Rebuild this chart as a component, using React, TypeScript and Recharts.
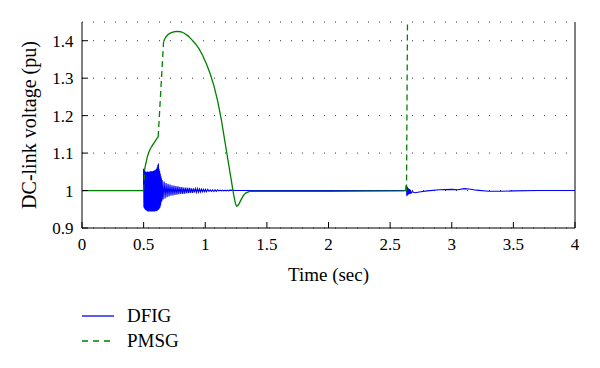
import React from 'react';
import { LineChart, Line, XAxis, YAxis, CartesianGrid, Legend, Text } from 'recharts';

// Time (sec) / DC-link voltage (pu) pairs
const dfigPoints: [number, number][] = [
  [0, 1.0], [0.499, 1.0],
  [0.5, 1.058], [0.5025, 0.955], [0.505, 1.055], [0.5075, 0.952], [0.51, 1.052], [0.5125, 0.95],
  [0.515, 1.05], [0.5175, 0.948], [0.52, 1.048], [0.5225, 0.947], [0.525, 1.05], [0.5275, 0.946],
  [0.53, 1.051], [0.5325, 0.945], [0.535, 1.05], [0.5375, 0.944], [0.54, 1.049], [0.5425, 0.944],
  [0.545, 1.05], [0.5475, 0.945], [0.55, 1.051], [0.5525, 0.944], [0.555, 1.05], [0.5575, 0.945],
  [0.56, 1.052], [0.5625, 0.944], [0.565, 1.051], [0.5675, 0.944], [0.57, 1.05], [0.5725, 0.945],
  [0.575, 1.052], [0.5775, 0.944], [0.58, 1.053], [0.5825, 0.945], [0.585, 1.052], [0.5875, 0.944],
  [0.59, 1.054], [0.5925, 0.945], [0.595, 1.055], [0.5975, 0.946], [0.6, 1.056], [0.6025, 0.945],
  [0.605, 1.058], [0.6075, 0.946], [0.61, 1.062], [0.6125, 0.947], [0.615, 1.068], [0.6175, 0.948],
  [0.62, 1.072], [0.6225, 0.95], [0.625, 1.058], [0.6275, 0.952], [0.63, 1.052], [0.6325, 0.955],
  [0.635, 1.045], [0.6375, 0.96], [0.64, 1.038], [0.6425, 0.968], [0.645, 1.032], [0.6475, 0.972],
  [0.65, 1.028], [0.658, 0.976], [0.666, 1.024], [0.674, 0.979], [0.682, 1.02], [0.69, 0.982],
  [0.698, 1.018], [0.706, 0.984], [0.714, 1.016], [0.722, 0.986], [0.73, 1.014], [0.738, 0.987],
  [0.746, 1.013], [0.754, 0.988], [0.762, 1.012], [0.77, 0.989], [0.778, 1.011], [0.786, 0.99],
  [0.794, 1.01], [0.802, 0.991], [0.81, 1.009], [0.818, 0.991], [0.826, 1.008], [0.834, 0.992],
  [0.842, 1.008], [0.85, 0.993], [0.858, 1.007], [0.866, 0.993], [0.874, 1.007], [0.882, 0.994],
  [0.89, 1.006], [0.898, 0.994], [0.906, 1.006], [0.914, 0.995], [0.922, 1.005], [0.93, 0.995],
  [0.938, 1.005], [0.946, 0.996], [0.954, 1.004], [0.962, 0.996], [0.97, 1.004], [0.978, 0.997],
  [0.986, 1.003], [0.994, 0.997], [1.002, 1.003], [1.01, 0.997], [1.02, 1.003], [1.03, 0.998],
  [1.04, 1.002], [1.05, 0.998], [1.06, 1.002], [1.07, 0.998], [1.08, 1.002], [1.09, 0.998],
  [1.1, 1.002], [1.11, 0.999], [1.12, 1.001], [1.13, 0.999], [1.14, 1.001], [1.15, 0.999],
  [1.16, 1.001], [1.17, 0.999], [1.18, 1.001], [1.19, 0.999], [1.2, 1.001], [1.25, 1.0],
  [2.0, 1.0], [2.628, 1.0], [2.632, 1.012], [2.636, 0.985], [2.64, 1.01], [2.644, 0.988],
  [2.648, 1.006], [2.652, 0.99], [2.656, 1.004], [2.66, 0.992], [2.665, 1.002], [2.67, 0.993],
  [2.68, 0.997], [2.7, 0.994], [2.75, 0.997], [2.8, 0.999], [2.9, 1.002], [3.0, 1.003],
  [3.05, 1.002], [3.1, 1.005], [3.14, 1.004], [3.2, 1.001], [3.3, 0.998], [3.4, 0.998],
  [3.5, 0.999], [3.7, 1.0], [4.0, 1.0],
];

// PMSG: densely sampled parts (drawn solid-looking) separated by null gaps
const pmsgSolidPoints: [number, number | null][] = [
  [0, 1.0], [0.499, 1.0], [0.5, null],
  [0.51, 1.06], [0.52, 1.075], [0.53, 1.09], [0.54, 1.1],
  [0.55, 1.108], [0.56, 1.115], [0.57, 1.12], [0.58, 1.125], [0.59, 1.13], [0.6, 1.135],
  [0.61, 1.14], [0.618, 1.143], [0.64, null],
  [0.662, 1.398], [0.68, 1.41], [0.7, 1.417], [0.72, 1.421],
  [0.75, 1.424], [0.77, 1.425], [0.8, 1.424], [0.83, 1.42], [0.86, 1.413], [0.89, 1.403],
  [0.92, 1.392], [0.95, 1.378], [0.98, 1.36], [1.01, 1.338], [1.04, 1.312], [1.07, 1.28],
  [1.1, 1.24], [1.13, 1.19], [1.16, 1.13], [1.19, 1.07], [1.21, 1.03], [1.23, 0.99],
  [1.245, 0.965], [1.255, 0.958], [1.27, 0.962], [1.29, 0.975], [1.31, 0.987], [1.33, 0.994],
  [1.36, 0.998], [1.4, 0.998], [2.0, 0.998], [2.6, 0.999], [2.628, 1.0], [2.63, 1.014],
  [2.633, 1.0],
];

// PMSG: sparsely sampled steep jumps (dashed)
const pmsgDashPoints: [number, number | null][] = [
  [0.499, 1.0], [0.51, 1.06], [0.56, null],
  [0.618, 1.143], [0.662, 1.398], [2.0, null],
  [2.633, 1.0], [2.645, 1.7],
];

const xTicks = [0, 0.5, 1, 1.5, 2, 2.5, 3, 3.5, 4];
const yTicks = [0.9, 1, 1.1, 1.2, 1.3, 1.4];
const seriesNames = ['DFIG', 'PMSG'];
const seriesColors = ['#0000ff', '#008000'];

const dfigData = dfigPoints.map(([t, v]) => ({ t, v }));
const pmsgSolidData = pmsgSolidPoints.map(([t, v]) => ({ t, v }));
const pmsgDashData = pmsgDashPoints.map(([t, v]) => ({ t, v }));

const FONT = '"Liberation Serif", "Times New Roman", serif';

const SerifTick = (props: any) => {
  const { x, y, textAnchor, verticalAnchor, payload } = props;
  return (
    <Text x={x} y={y} textAnchor={textAnchor} verticalAnchor={verticalAnchor}
      fontSize={17} fill="#000" fontFamily={FONT} style={{ fontFamily: FONT }}>
      {String(payload.value)}
    </Text>
  );
};

const LegendContent = () => (
  <div style={{ fontFamily: FONT, fontSize: 19, color: '#000' }}>
    {seriesNames.map((name, i) => (
      <div key={name} style={{ display: 'flex', alignItems: 'center', height: 25.5 }}>
        <svg width={32} height={4} style={{ display: 'block' }}>
          <line x1={0} y1={2} x2={32} y2={2} stroke={seriesColors[i]} strokeWidth={1.3}
            strokeDasharray={i === 1 ? '6 5' : undefined} />
        </svg>
        <span style={{ marginLeft: 13 }}>{name}</span>
      </div>
    ))}
  </div>
);

export default function App() {
  return (
    <div style={{ position: 'absolute', left: 0, top: 0, width: 600, height: 368, background: '#fff', fontFamily: FONT }}>
      <LineChart width={600} height={368} margin={{ top: 22, right: 24, bottom: 100, left: 0 }}
        style={{ fontFamily: FONT }}>
        <CartesianGrid vertical={false} strokeDasharray="1 10" stroke="#333" />
        <XAxis dataKey="t" type="number" domain={[0, 4]} ticks={xTicks} height={40}
          allowDataOverflow tickSize={-6} tickMargin={15.5}
          stroke="#000" tick={<SerifTick />}
          label={{ value: 'Time (sec)', position: 'bottom', offset: 0, fontSize: 19, fill: '#000', fontFamily: FONT }} />
        <XAxis xAxisId="top" orientation="top" dataKey="t" type="number" domain={[0, 4]} ticks={xTicks}
          height={0} tickSize={-6} tick={false} stroke="#000" />
        <YAxis type="number" domain={[0.9, 1.45]} ticks={yTicks} width={82} allowDataOverflow
          tickSize={-6} tickMargin={14.5} stroke="#000"
          tick={<SerifTick />}
          label={{ value: 'DC-link voltage (pu)', angle: -90, position: 'insideLeft', offset: 29,
            fontSize: 20, fill: '#000', fontFamily: FONT, style: { textAnchor: 'middle' } }} />
        <YAxis yAxisId="right" orientation="right" type="number" domain={[0.9, 1.45]} ticks={yTicks}
          width={1} tickSize={-6} tick={false} stroke="#000" />
        <Line data={dfigData} dataKey="v" name="DFIG" type="linear" stroke={seriesColors[0]}
          strokeWidth={1.1} dot={false} isAnimationActive={false} />
        <Line data={pmsgSolidData} dataKey="v" name="PMSG" type="linear" stroke={seriesColors[1]}
          strokeWidth={1.3} dot={false} isAnimationActive={false} connectNulls={false} />
        <Line data={pmsgDashData} dataKey="v" name="PMSG jump" legendType="none" type="linear"
          stroke={seriesColors[1]} strokeWidth={1.3} strokeDasharray="6 4" dot={false}
          isAnimationActive={false} connectNulls={false} />
        <Legend layout="vertical" align="center" verticalAlign="middle" content={LegendContent}
          wrapperStyle={{ left: 82, top: 303, width: 200 }} />
      </LineChart>
    </div>
  );
}
